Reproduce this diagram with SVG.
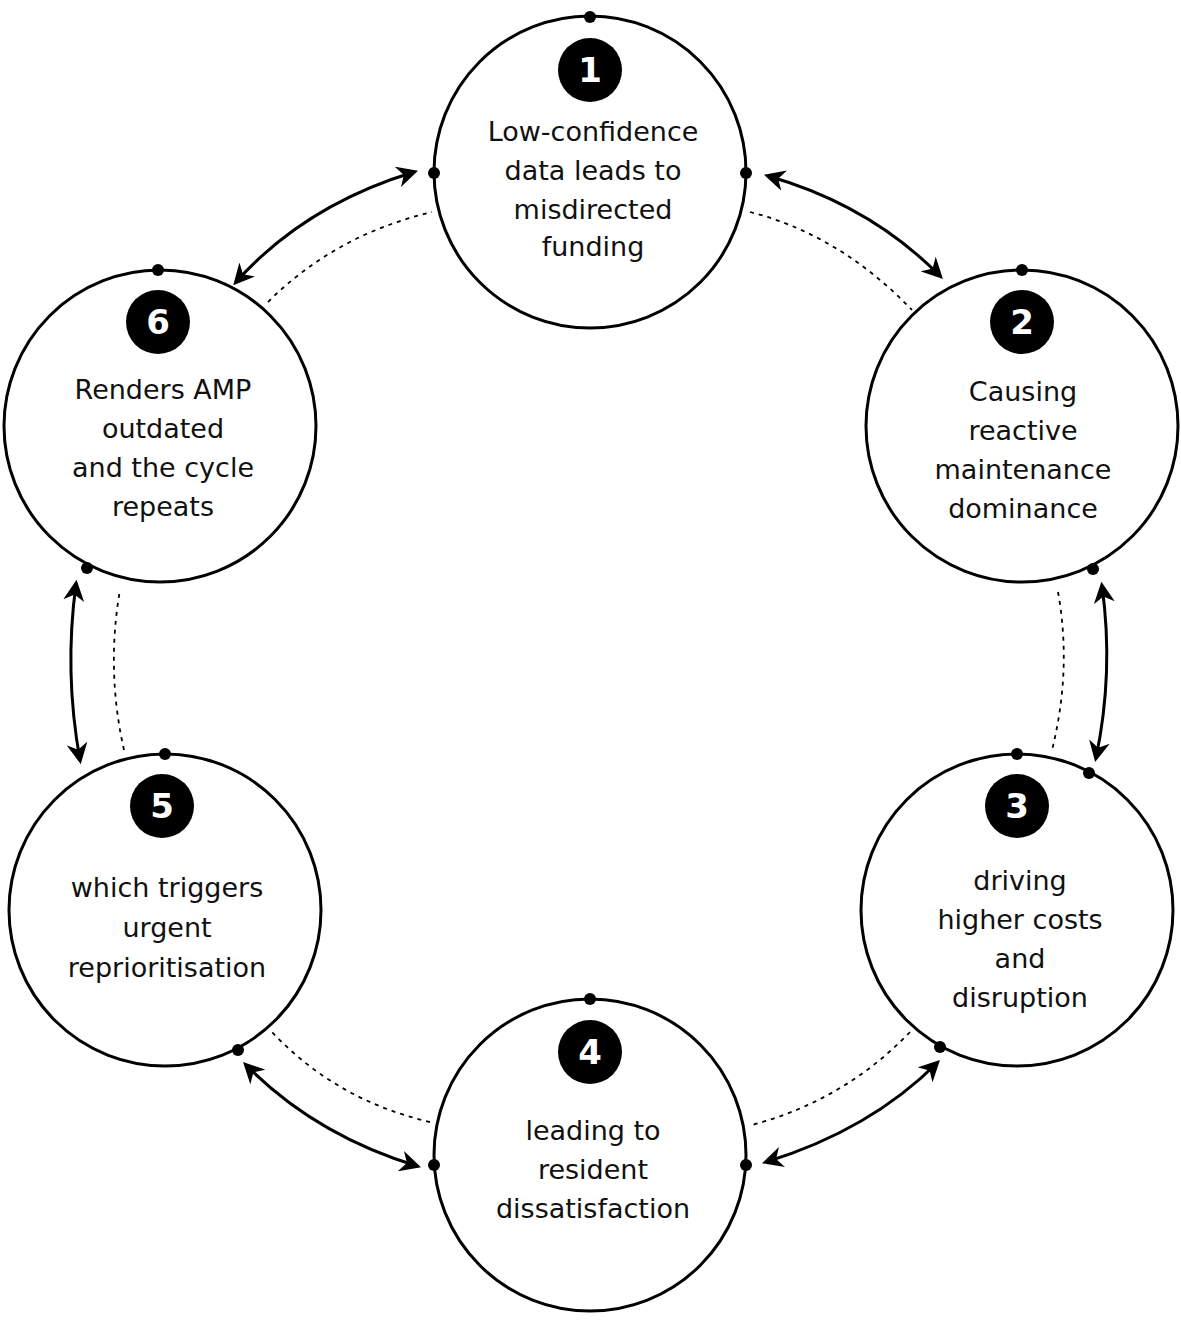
<svg xmlns="http://www.w3.org/2000/svg" width="1181" height="1331" viewBox="0 0 1181 1331">
<defs>
<marker id="ah" viewBox="0 0 10 10" refX="8" refY="5" markerWidth="7" markerHeight="7" orient="auto-start-reverse"><path d="M0,0 L10,5 L0,10 L3,5 z" fill="#000"/></marker>
<style>
.n{fill:#fff;stroke:#000;stroke-width:3}
.b{fill:#000}
.bt{fill:#fff;font-family:"DejaVu Sans",sans-serif;font-size:34px;font-weight:bold;text-anchor:middle}
.t{fill:#111;font-family:"DejaVu Sans",sans-serif;font-size:27px;text-anchor:middle}
.a{fill:none;stroke:#000;stroke-width:3;marker-start:url(#ah);marker-end:url(#ah)}
.d{fill:none;stroke:#000;stroke-width:1.8;stroke-dasharray:4 5}
</style>
</defs>
<rect width="1181" height="1331" fill="#fff"/>
<g id="connectors">
<path class="a" d="M768,176 Q870,205 940,276"/>
<path class="a" d="M1102,586 Q1114,672 1096,758"/>
<path class="a" d="M937,1063 Q870,1130 766,1162"/>
<path class="a" d="M417,1166 Q315,1135 246,1065"/>
<path class="a" d="M80,760 Q64,672 76,584"/>
<path class="a" d="M236,282 Q305,205 414,172"/>
<path class="d" d="M750,212 Q840,235 912,310"/>
<path class="d" d="M1058,592 Q1072,670 1052,750"/>
<path class="d" d="M910,1032 Q845,1100 752,1125"/>
<path class="d" d="M430,1122 Q335,1100 270,1030"/>
<path class="d" d="M124,750 Q106,670 120,590"/>
<path class="d" d="M268,302 Q335,235 432,212"/>
</g>
<g id="node1"><circle class="n" cx="590" cy="172" r="156"/><circle class="b" cx="590" cy="70" r="32"/><text class="bt" x="590" y="82">1</text>
<text class="t" x="593" y="141">Low-confidence</text><text class="t" x="593" y="180">data leads to</text><text class="t" x="593" y="219">misdirected</text><text class="t" x="593" y="256">funding</text></g>
<g id="node2"><circle class="n" cx="1022" cy="426" r="156"/><circle class="b" cx="1022" cy="322" r="32"/><text class="bt" x="1022" y="334">2</text>
<text class="t" x="1023" y="401">Causing</text><text class="t" x="1023" y="440">reactive</text><text class="t" x="1023" y="479">maintenance</text><text class="t" x="1023" y="518">dominance</text></g>
<g id="node3"><circle class="n" cx="1017" cy="910" r="156"/><circle class="b" cx="1017" cy="806" r="32"/><text class="bt" x="1017" y="818">3</text>
<text class="t" x="1020" y="890">driving</text><text class="t" x="1020" y="929">higher costs</text><text class="t" x="1020" y="968">and</text><text class="t" x="1020" y="1007">disruption</text></g>
<g id="node4"><circle class="n" cx="590" cy="1155" r="156"/><circle class="b" cx="590" cy="1052" r="32"/><text class="bt" x="590" y="1064">4</text>
<text class="t" x="593" y="1140">leading to</text><text class="t" x="593" y="1179">resident</text><text class="t" x="593" y="1218">dissatisfaction</text></g>
<g id="node5"><circle class="n" cx="165" cy="910" r="156"/><circle class="b" cx="162" cy="806" r="32"/><text class="bt" x="162" y="818">5</text>
<text class="t" x="167" y="897">which triggers</text><text class="t" x="167" y="937">urgent</text><text class="t" x="167" y="977">reprioritisation</text></g>
<g id="node6"><circle class="n" cx="160" cy="426" r="156"/><circle class="b" cx="158" cy="322" r="32"/><text class="bt" x="158" y="334">6</text>
<text class="t" x="163" y="399">Renders AMP</text><text class="t" x="163" y="438">outdated</text><text class="t" x="163" y="477">and the cycle</text><text class="t" x="163" y="516">repeats</text></g>
<g id="dots" fill="#000">
<circle cx="590" cy="17" r="6"/><circle cx="434" cy="173" r="6"/><circle cx="746" cy="173" r="6"/>
<circle cx="1022" cy="270" r="6"/><circle cx="1093" cy="569" r="6"/>
<circle cx="1017" cy="754" r="6"/><circle cx="1089" cy="773" r="6"/><circle cx="940" cy="1047" r="6"/>
<circle cx="590" cy="999" r="6"/><circle cx="434" cy="1165" r="6"/><circle cx="746" cy="1165" r="6"/>
<circle cx="165" cy="754" r="6"/><circle cx="238" cy="1050" r="6"/>
<circle cx="158" cy="270" r="6"/><circle cx="87" cy="568" r="6"/>
</g>
</svg>
